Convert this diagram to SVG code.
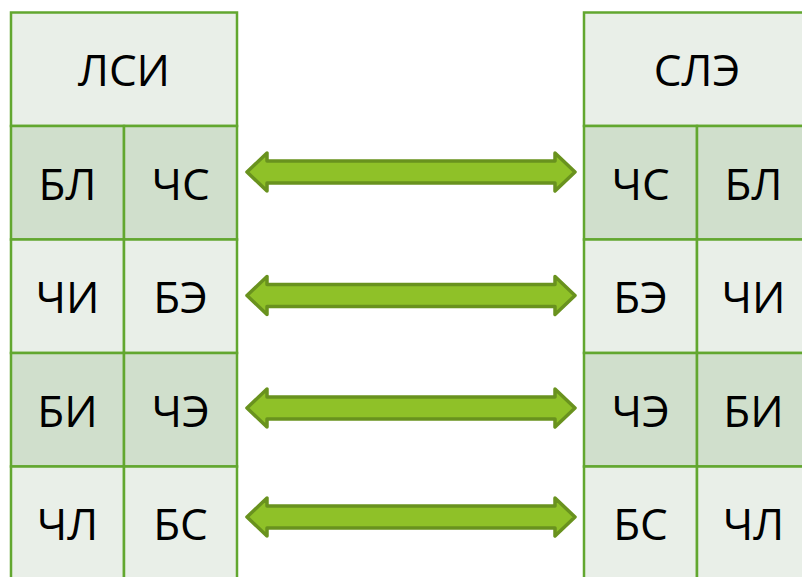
<svg xmlns="http://www.w3.org/2000/svg" width="802" height="577" viewBox="0 0 802 577">
<style>
.l{fill:#e9efe8;stroke:#62a72f;stroke-width:2.5}
.d{fill:#d0dfcc;stroke:#62a72f;stroke-width:2.5}
text{font-family:"Open Sans","Noto Sans","DejaVu Sans",sans-serif;font-size:44px;fill:#000;text-anchor:middle}
.arr{fill:#8fc128;stroke:#69921e;stroke-width:3.5;stroke-linejoin:round}
</style>
<defs>
<path id="a" d="M247,0 L267,-19 L267,-11 L555,-11 L555,-19 L575,0 L555,19 L555,11 L267,11 L267,19 Z"/>
</defs>
<rect width="802" height="577" fill="#fff"/>
<g id="lsi">
<rect class="l" x="11" y="12.5" width="226" height="113.5"/>
<text x="124" y="86">ЛСИ</text>
</g>
<g id="lsi-r1">
<rect class="d" x="11" y="126" width="113" height="113.5"/>
<rect class="d" x="124" y="126" width="113" height="113.5"/>
<text x="67.5" y="200">БЛ</text>
<text x="180.5" y="200">ЧС</text>
</g>
<g id="lsi-r2">
<rect class="l" x="11" y="239.5" width="113" height="113.5"/>
<rect class="l" x="124" y="239.5" width="113" height="113.5"/>
<text x="67.5" y="313">ЧИ</text>
<text x="180.5" y="313">БЭ</text>
</g>
<g id="lsi-r3">
<rect class="d" x="11" y="353" width="113" height="113.5"/>
<rect class="d" x="124" y="353" width="113" height="113.5"/>
<text x="67.5" y="427">БИ</text>
<text x="180.5" y="427">ЧЭ</text>
</g>
<g id="lsi-r4">
<rect class="l" x="11" y="466.5" width="113" height="120"/>
<rect class="l" x="124" y="466.5" width="113" height="120"/>
<text x="67.5" y="540">ЧЛ</text>
<text x="180.5" y="540">БС</text>
</g>
<g id="sle">
<rect class="l" x="584" y="12.5" width="226" height="113.5"/>
<text x="697" y="86">СЛЭ</text>
</g>
<g id="sle-r1">
<rect class="d" x="584" y="126" width="113" height="113.5"/>
<rect class="d" x="697" y="126" width="113" height="113.5"/>
<text x="640.5" y="200">ЧС</text>
<text x="753.5" y="200">БЛ</text>
</g>
<g id="sle-r2">
<rect class="l" x="584" y="239.5" width="113" height="113.5"/>
<rect class="l" x="697" y="239.5" width="113" height="113.5"/>
<text x="640.5" y="313">БЭ</text>
<text x="753.5" y="313">ЧИ</text>
</g>
<g id="sle-r3">
<rect class="d" x="584" y="353" width="113" height="113.5"/>
<rect class="d" x="697" y="353" width="113" height="113.5"/>
<text x="640.5" y="427">ЧЭ</text>
<text x="753.5" y="427">БИ</text>
</g>
<g id="sle-r4">
<rect class="l" x="584" y="466.5" width="113" height="120"/>
<rect class="l" x="697" y="466.5" width="113" height="120"/>
<text x="640.5" y="540">БС</text>
<text x="753.5" y="540">ЧЛ</text>
</g>
<g id="connectors">
<use href="#a" class="arr" transform="translate(0,172)"/>
<use href="#a" class="arr" transform="translate(0,295.5)"/>
<use href="#a" class="arr" transform="translate(0,408)"/>
<use href="#a" class="arr" transform="translate(0,517)"/>
</g>
</svg>
